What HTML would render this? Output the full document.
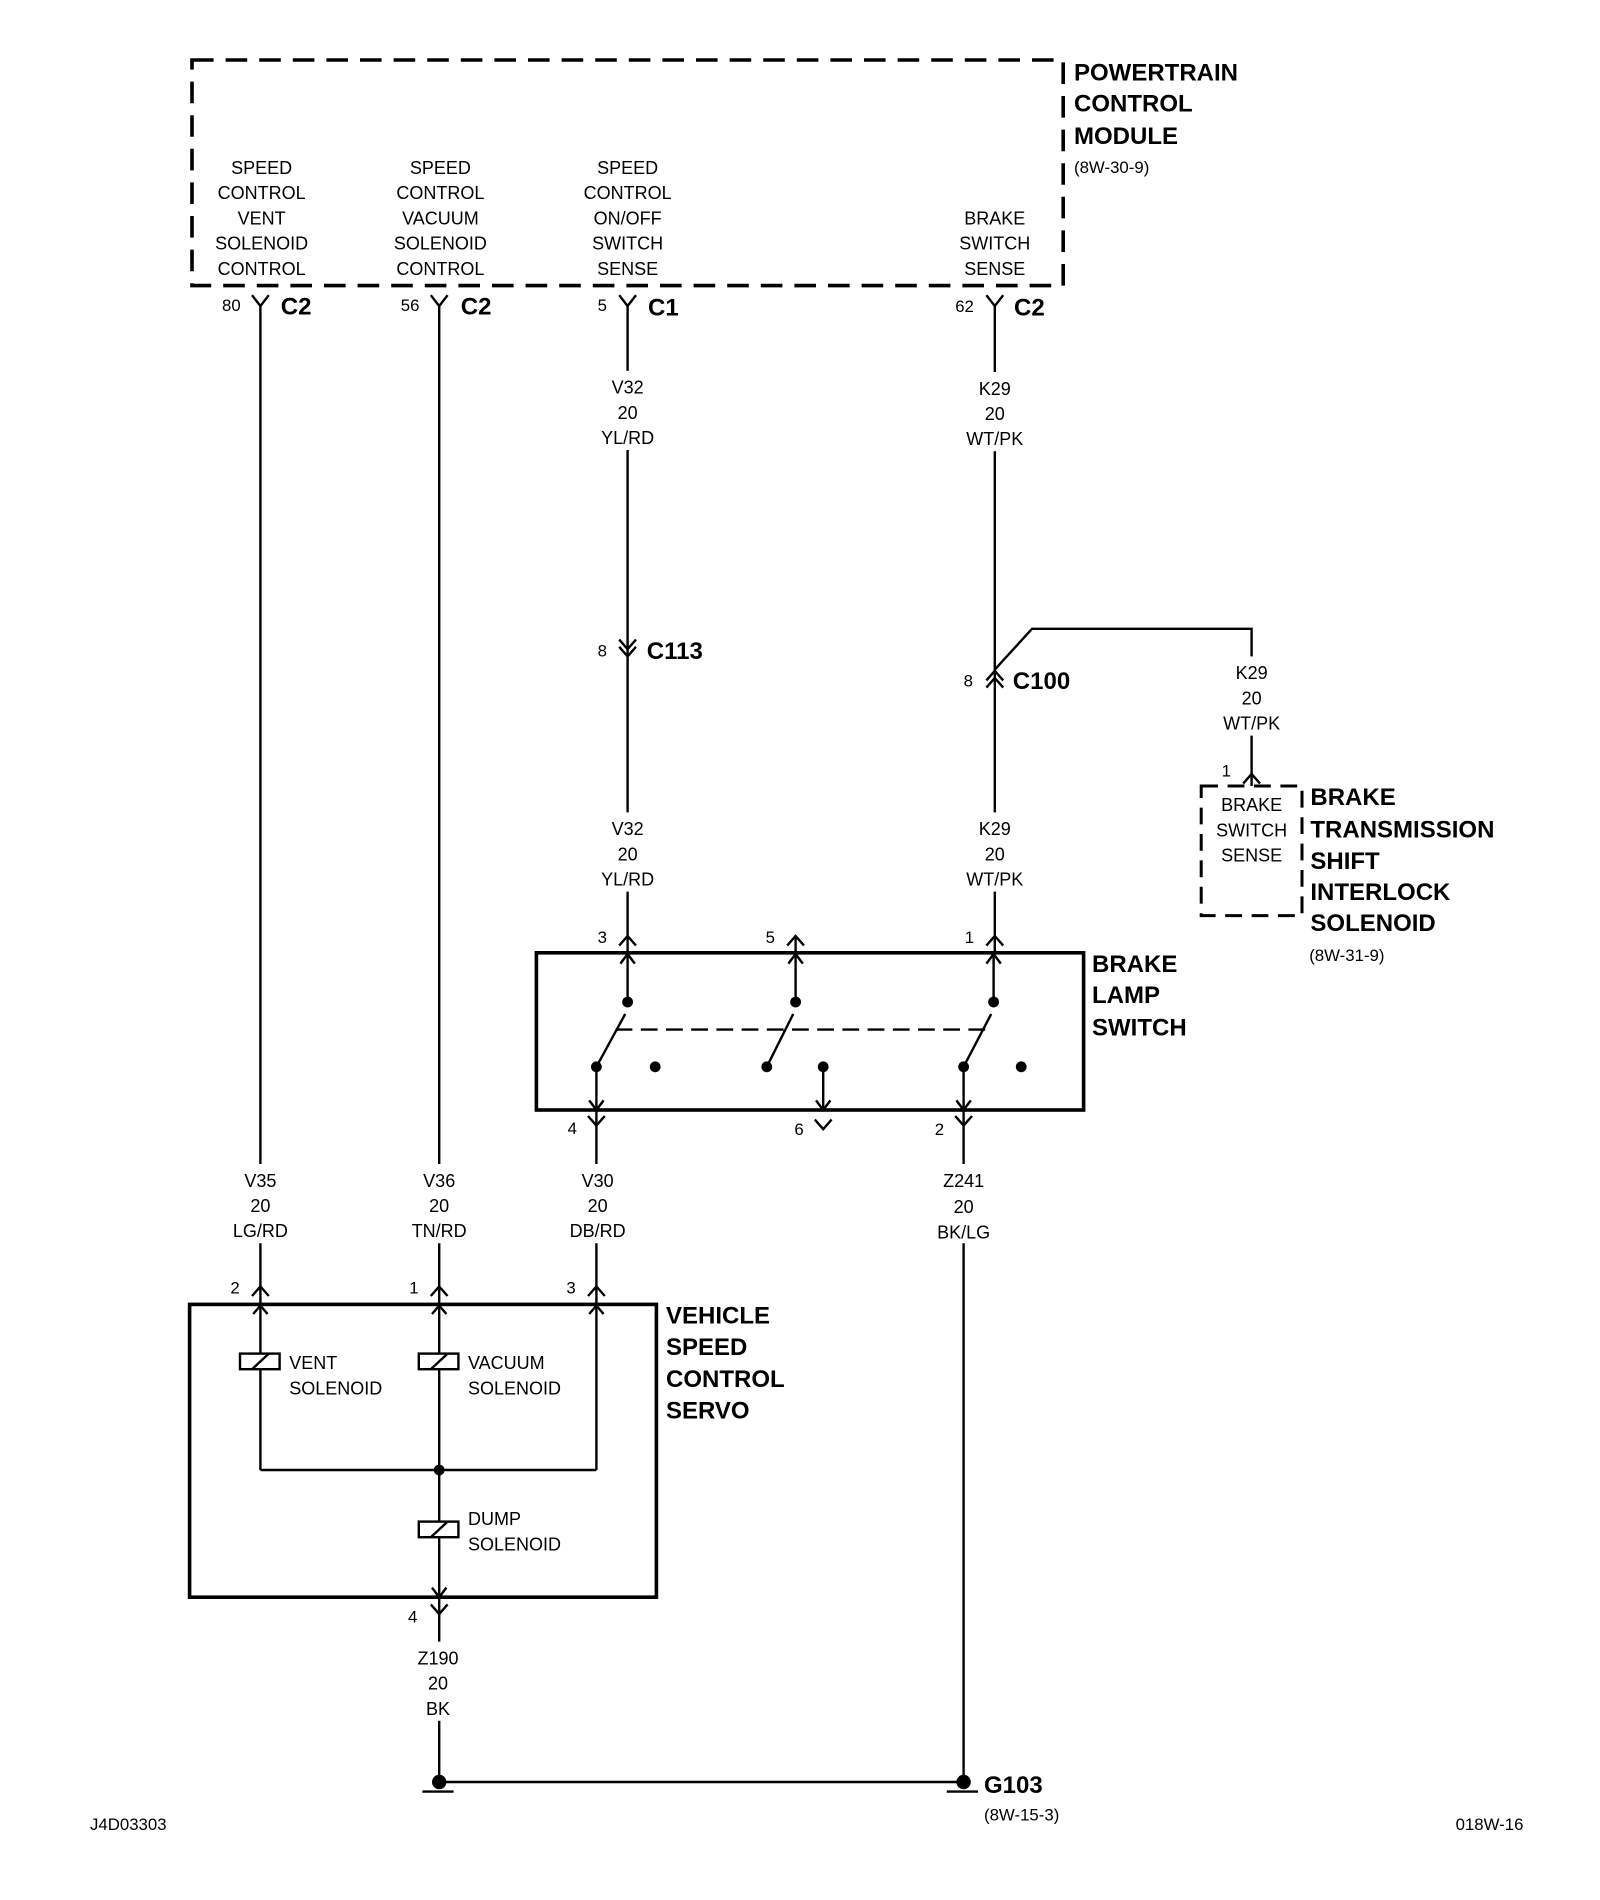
<!DOCTYPE html>
<html><head><meta charset="utf-8"><style>
html,body{margin:0;padding:0;background:#fff}
svg{display:block}
text{font-family:"Liberation Sans Narrow","Liberation Sans",sans-serif;fill:#000}
.t{font-size:15px;text-anchor:middle}
.b{font-size:20px;font-weight:bold}
.s{font-size:14px}
</style></head><body>
<svg width="1600" height="1900" viewBox="0 0 1333.33 1583.33" xmlns="http://www.w3.org/2000/svg">
<g fill="none" stroke="#000">
<rect x="160" y="50" width="726" height="188" stroke-width="3" stroke-dasharray="18,10"/>
<rect x="1001" y="655" width="84" height="108" stroke-width="2.5" stroke-dasharray="14,8"/>
<rect x="447" y="794" width="456" height="131" stroke-width="3"/>
<rect x="158" y="1087" width="389" height="244" stroke-width="3"/>
<g stroke-width="2">
<line x1="217" y1="255" x2="217" y2="1072"/>
<line x1="366" y1="255" x2="366" y2="1072"/>
<line x1="523" y1="255" x2="523" y2="780"/>
<line x1="829" y1="255" x2="829" y2="780"/>
<polyline points="829,558 860,524 1043,524 1043,645"/>
<line x1="497" y1="938" x2="497" y2="1072"/>
<line x1="803" y1="938" x2="803" y2="1485"/>
<line x1="366" y1="1331" x2="366" y2="1485"/>
<line x1="366" y1="1485" x2="803" y2="1485"/>
<path d="M210,246 L217,255 L224,246 M359,246 L366,255 L373,246 M516,246 L523,255 L530,246 M822,246 L829,255 L836,246"/>
<path d="M516,533 L523,541 L530,533 M516,539 L523,547 L530,539"/>
<path d="M822,567 L829,559 L836,567 M822,573 L829,565 L836,573"/>
<path d="M516,788 L523,780 L530,788 M656,788 L663,780 L670,788 M822,788 L829,780 L836,788 M1036,653 L1043,645 L1050,653"/>
<path d="M1043,645 L1043,655"/>
<path d="M210,1080 L217,1072 L224,1080 M359,1080 L366,1072 L373,1080 M490,1080 L497,1072 L504,1080"/>
<path d="M523,780 L523,794 M663,780 L663,794 M829,780 L829,794 M217,1072 L217,1087 M366,1072 L366,1087 M497,1072 L497,1087"/>
<line x1="523" y1="794" x2="523" y2="835"/>
<line x1="663" y1="794" x2="663" y2="835"/>
<line x1="828" y1="794" x2="828" y2="835"/>
<path d="M517,803 L523,795 L529,803 M657,803 L663,795 L669,803 M822,803 L828,795 L834,803"/>
<line x1="497" y1="889" x2="521" y2="845"/>
<line x1="639" y1="889" x2="661" y2="845"/>
<line x1="803" y1="889" x2="826" y2="845"/>
<line x1="513" y1="858" x2="823" y2="858" stroke-dasharray="14,7"/>
<line x1="497" y1="889" x2="497" y2="938"/>
<line x1="686" y1="889" x2="686" y2="925"/>
<line x1="803" y1="889" x2="803" y2="938"/>
<path d="M491,917 L497,925 L503,917 M680,917 L686,925 L692,917 M797,917 L803,925 L809,917"/>
<path d="M490,930 L497,938 L504,930 M679,933 L686,941 L693,933 M796,930 L803,938 L810,930"/>
<line x1="217" y1="1087" x2="217" y2="1225"/>
<line x1="366" y1="1087" x2="366" y2="1331"/>
<line x1="497" y1="1087" x2="497" y2="1225"/>
<line x1="217" y1="1225" x2="497" y2="1225"/>
<path d="M211,1095 L217,1088 L223,1095 M360,1095 L366,1088 L372,1095 M491,1095 L497,1088 L503,1095"/>
<path d="M360,1323 L366,1331 L372,1323"/>
<path d="M359,1337 L366,1345 L373,1337"/>
<path d="M352,1493 L378,1493 M789,1493 L815,1493"/>
</g>
<g stroke-width="2" fill="#fff">
<rect x="200" y="1128" width="33" height="13"/>
<rect x="349" y="1128" width="33" height="13"/>
<rect x="349" y="1268" width="33" height="13"/>
</g>
<path d="M210,1141 L224,1128 M359,1141 L373,1128 M359,1281 L373,1268" stroke-width="2"/>
</g>
<!-- label gaps -->
<g fill="#fff">
<rect x="495" y="309" width="56" height="66"/>
<rect x="800" y="310" width="58" height="66"/>
<rect x="495" y="677" width="56" height="66"/>
<rect x="800" y="677" width="58" height="66"/>
<rect x="1014" y="547" width="58" height="66"/>
<rect x="190" y="970" width="54" height="66"/>
<rect x="339" y="970" width="54" height="66"/>
<rect x="470" y="970" width="56" height="66"/>
<rect x="776" y="970" width="54" height="66"/>
<rect x="340" y="1368" width="50" height="66"/>
</g>
<g fill="#000">
<circle cx="523" cy="835" r="4.5"/><circle cx="663" cy="835" r="4.5"/><circle cx="828" cy="835" r="4.5"/>
<circle cx="497" cy="889" r="4.5"/><circle cx="546" cy="889" r="4.5"/><circle cx="639" cy="889" r="4.5"/>
<circle cx="686" cy="889" r="4.5"/><circle cx="803" cy="889" r="4.5"/><circle cx="851" cy="889" r="4.5"/>
<circle cx="366" cy="1225" r="4.5"/>
<circle cx="366" cy="1485" r="6"/><circle cx="803" cy="1485" r="6"/>
</g>
<g class="t">
<text x="218" y="145">SPEED</text><text x="218" y="166">CONTROL</text><text x="218" y="187">VENT</text><text x="218" y="208">SOLENOID</text><text x="218" y="229">CONTROL</text>
<text x="367" y="145">SPEED</text><text x="367" y="166">CONTROL</text><text x="367" y="187">VACUUM</text><text x="367" y="208">SOLENOID</text><text x="367" y="229">CONTROL</text>
<text x="523" y="145">SPEED</text><text x="523" y="166">CONTROL</text><text x="523" y="187">ON/OFF</text><text x="523" y="208">SWITCH</text><text x="523" y="229">SENSE</text>
<text x="829" y="187">BRAKE</text><text x="829" y="208">SWITCH</text><text x="829" y="229">SENSE</text>
<text x="523" y="328">V32</text><text x="523" y="349">20</text><text x="523" y="370">YL/RD</text>
<text x="829" y="329">K29</text><text x="829" y="350">20</text><text x="829" y="371">WT/PK</text>
<text x="523" y="696">V32</text><text x="523" y="717">20</text><text x="523" y="738">YL/RD</text>
<text x="829" y="696">K29</text><text x="829" y="717">20</text><text x="829" y="738">WT/PK</text>
<text x="1043" y="566">K29</text><text x="1043" y="587">20</text><text x="1043" y="608">WT/PK</text>
<text x="1043" y="676">BRAKE</text><text x="1043" y="697">SWITCH</text><text x="1043" y="718">SENSE</text>
<text x="217" y="989">V35</text><text x="217" y="1010">20</text><text x="217" y="1031">LG/RD</text>
<text x="366" y="989">V36</text><text x="366" y="1010">20</text><text x="366" y="1031">TN/RD</text>
<text x="498" y="989">V30</text><text x="498" y="1010">20</text><text x="498" y="1031">DB/RD</text>
<text x="803" y="989">Z241</text><text x="803" y="1011">20</text><text x="803" y="1032">BK/LG</text>
<text x="365" y="1387">Z190</text><text x="365" y="1408">20</text><text x="365" y="1429">BK</text>
</g>
<g style="font-size:15px">
<text x="241" y="1141">VENT</text><text x="241" y="1162">SOLENOID</text>
<text x="390" y="1141">VACUUM</text><text x="390" y="1162">SOLENOID</text>
<text x="390" y="1271">DUMP</text><text x="390" y="1292">SOLENOID</text>
</g>
<g class="s">
<text x="185" y="259">80</text><text x="334" y="259">56</text><text x="498" y="259">5</text><text x="796" y="260">62</text>
<text x="498" y="547">8</text><text x="803" y="572">8</text>
<text x="498" y="786">3</text><text x="638" y="786">5</text><text x="804" y="786">1</text><text x="1018" y="647">1</text>
<text x="473" y="945">4</text><text x="662" y="946">6</text><text x="779" y="946">2</text>
<text x="192" y="1078">2</text><text x="341" y="1078">1</text><text x="472" y="1078">3</text>
<text x="340" y="1352">4</text>
<text x="895" y="144">(8W-30-9)</text><text x="1091" y="801">(8W-31-9)</text><text x="820" y="1517">(8W-15-3)</text>
<text x="75" y="1525">J4D03303</text><text x="1213" y="1525">018W-16</text>
</g>
<g class="b">
<text x="234" y="262">C2</text><text x="384" y="262">C2</text><text x="540" y="263">C1</text><text x="845" y="263">C2</text>
<text x="539" y="549">C113</text><text x="844" y="574">C100</text>
<text x="895" y="67">POWERTRAIN</text><text x="895" y="93">CONTROL</text><text x="895" y="120">MODULE</text>
<text x="1092" y="671">BRAKE</text><text x="1092" y="698">TRANSMISSION</text><text x="1092" y="724">SHIFT</text><text x="1092" y="750">INTERLOCK</text><text x="1092" y="776">SOLENOID</text>
<text x="910" y="810">BRAKE</text><text x="910" y="836">LAMP</text><text x="910" y="863">SWITCH</text>
<text x="555" y="1103">VEHICLE</text><text x="555" y="1129">SPEED</text><text x="555" y="1156">CONTROL</text><text x="555" y="1182">SERVO</text>
<text x="820" y="1494">G103</text>
</g>
</svg>
</body></html>
